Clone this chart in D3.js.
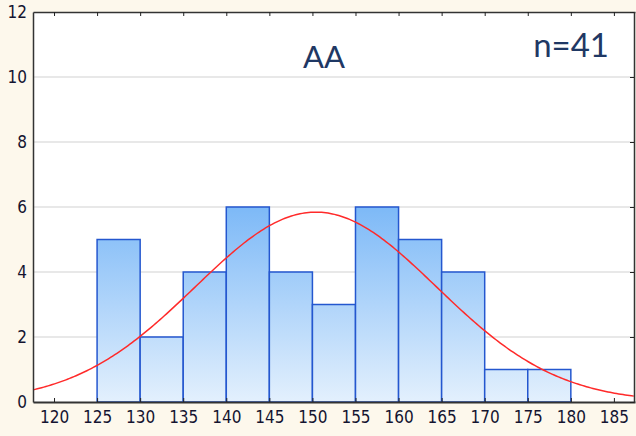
<!DOCTYPE html>
<html><head><meta charset="utf-8">
<script src="https://cdn.jsdelivr.net/npm/d3@7"></script>
<style>
html,body{margin:0;padding:0;background:#fdf8ec;}
svg{display:block;}
</style></head>
<body><svg id="c" width="636" height="436"></svg>
<script>
const binStarts = [125,130,135,140,145,150,155,160,165,170,175];
const binWidth = 5;
const counts = [5,2,4,6,4,3,6,5,4,1,1];
const xTicks = [120,125,130,135,140,145,150,155,160,165,170,175,180,185];
const yTicks = [0,2,4,6,8,10,12];
const fitMean = 150.4;
const fitSD = 14.0;
const nTotal = 41;
const titleText = "AA";
const nText = "n=41";

const svg = d3.select("#c");
const L = 33, R = 635, T = 12, B = 402;
const x = d3.scaleLinear().domain([117.56, 187.45]).range([L, R]);
const y = d3.scaleLinear().domain([0, 12]).range([B, T]);

svg.append("rect").attr("width",636).attr("height",436).attr("fill","#fdf8ec");
svg.append("rect").attr("x",L).attr("y",T).attr("width",R-L).attr("height",B-T).attr("fill","#ffffff");

const defs = svg.append("defs");
const g = defs.append("linearGradient").attr("id","bg").attr("gradientUnits","userSpaceOnUse")
  .attr("x1",0).attr("y1",y(6)).attr("x2",0).attr("y2",B);
g.append("stop").attr("offset","0").attr("stop-color","#7db9f7");
g.append("stop").attr("offset","1").attr("stop-color","#e3f0fd");

// gridlines
svg.append("g").selectAll("line").data(yTicks.filter(d=>d>0 && d<12)).join("line")
  .attr("x1",L).attr("x2",R).attr("y1",d=>y(d)).attr("y2",d=>y(d))
  .attr("stroke","#e0e0e0").attr("stroke-width",1.5);

// bars
svg.append("g").selectAll("rect").data(binStarts).join("rect")
  .attr("x",(d)=>x(d)).attr("width",d=>x(d+binWidth)-x(d))
  .attr("y",(d,i)=>y(counts[i])).attr("height",(d,i)=>B-y(counts[i]))
  .attr("fill","url(#bg)").attr("stroke","#2457cf").attr("stroke-width",1.5);

// normal curve
const pts = d3.range(x.domain()[0], x.domain()[1]+0.01, 0.25);
const dens = v => nTotal*binWidth/(fitSD*Math.sqrt(2*Math.PI))*Math.exp(-0.5*((v-fitMean)/fitSD)**2);
svg.append("path").datum(pts)
  .attr("d", d3.line().x(v=>x(v)).y(v=>y(dens(v))))
  .attr("fill","none").attr("stroke","#ff2a2a").attr("stroke-width",1.5);

// axes
const font = "'Liberation Sans Narrow','Arial Narrow','DejaVu Sans Condensed',sans-serif";
const xa = svg.append("g").attr("transform",`translate(0,${B})`)
  .call(d3.axisBottom(x).tickValues(xTicks).tickSize(-4).tickPadding(9).tickSizeOuter(0));
const xt = svg.append("g").attr("transform",`translate(0,${T})`)
  .call(d3.axisTop(x).tickValues(xTicks).tickSize(-4).tickFormat("").tickSizeOuter(0));
const ya = svg.append("g").attr("transform",`translate(${L},0)`)
  .call(d3.axisLeft(y).tickValues(yTicks).tickSize(0).tickPadding(6).tickSizeOuter(0));
const yr = svg.append("g").attr("transform",`translate(${R-1},0)`)
  .call(d3.axisRight(y).tickValues(yTicks).tickSize(-4).tickFormat("").tickSizeOuter(0));
[xa,xt,ya,yr].forEach(a=>{
  a.select(".domain").attr("stroke","#333333").attr("stroke-width",1.5);
  a.selectAll(".tick line").attr("stroke","#222222");
  a.selectAll("text").attr("font-family",font).attr("font-size",17).attr("fill","#141430");
});
xa.select(".domain").attr("stroke-width",2.2);

svg.append("text").attr("x",324).attr("y",68).attr("text-anchor","middle")
  .attr("font-family","Lato,'Open Sans',sans-serif").attr("font-size",31).attr("fill","#1f3864").text(titleText);
svg.append("text").attr("x",609).attr("y",57).attr("text-anchor","end")
  .attr("font-family","Lato,'Open Sans',sans-serif").attr("font-size",33).attr("fill","#1f3864").text(nText);
</script></body></html>
